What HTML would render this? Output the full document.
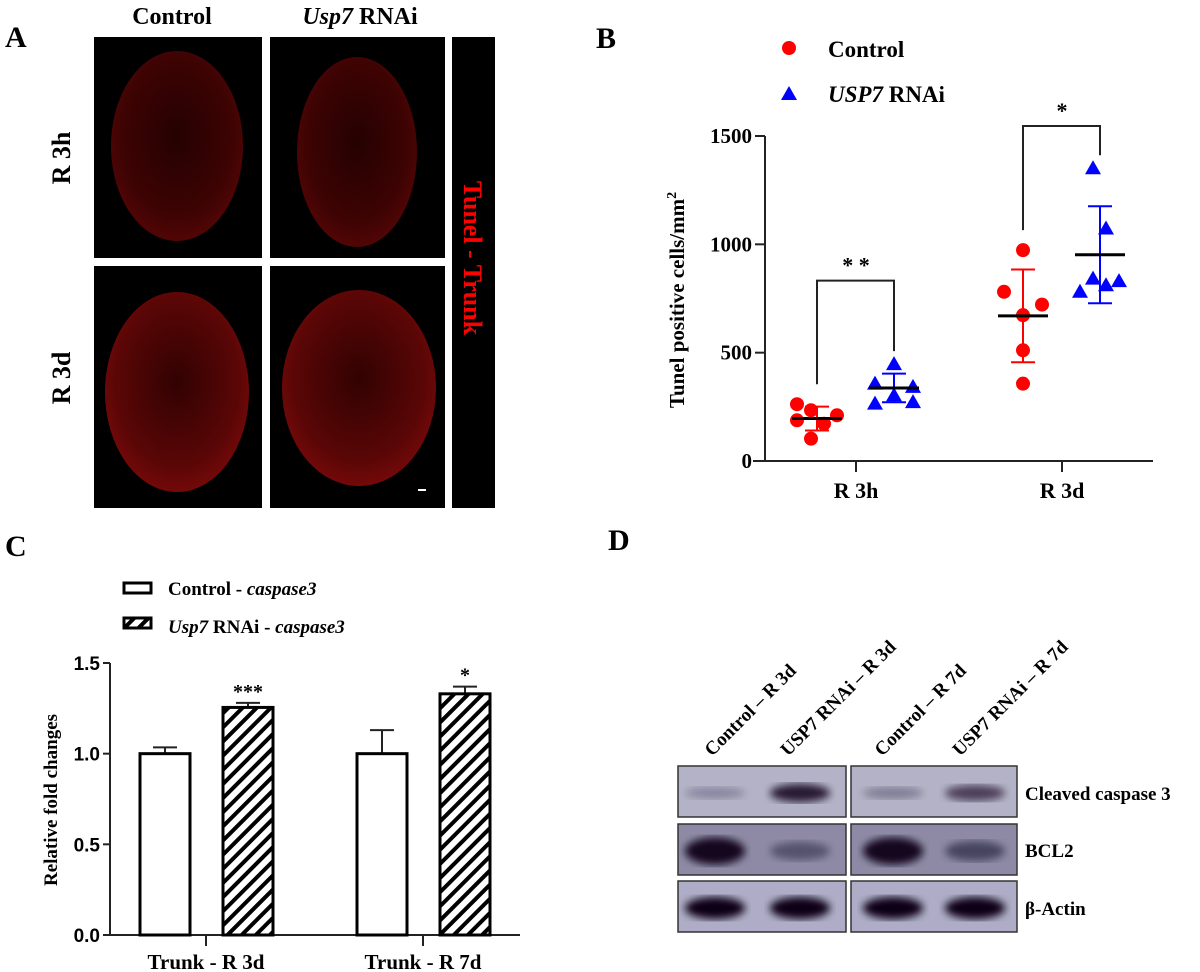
<!DOCTYPE html>
<html><head><meta charset="utf-8"><style>
body{margin:0;background:#fff;width:1200px;height:972px;overflow:hidden}
svg{display:block}
.s{font-family:"Liberation Serif",serif;font-weight:bold}
.a{font-family:"Liberation Sans",sans-serif;font-weight:bold}
</style></head><body>
<svg id="fig" width="1200" height="972" viewBox="0 0 1200 972">
<defs>
<radialGradient id="emb" cx="50%" cy="45%" r="60%"><stop offset="0" stop-color="#250101"/><stop offset="0.7" stop-color="#3e0303"/><stop offset="1" stop-color="#5a0606"/></radialGradient>
<radialGradient id="emb2" cx="50%" cy="45%" r="60%"><stop offset="0" stop-color="#320202"/><stop offset="0.7" stop-color="#5a0606"/><stop offset="1" stop-color="#7e0a0a"/></radialGradient>
<pattern id="hatch" patternUnits="userSpaceOnUse" width="10" height="10" patternTransform="rotate(45)"><rect width="10" height="10" fill="#fff"/><rect width="4" height="10" fill="#000"/></pattern>
<filter id="blur"><feGaussianBlur stdDeviation="4"/></filter>
</defs>

<g>
<text class="s" x="5" y="47" font-size="30">A</text>
<text class="s" x="172" y="24" font-size="24" text-anchor="middle">Control</text>
<text class="s" x="360" y="24" font-size="24" text-anchor="middle"><tspan font-style="italic">Usp7</tspan> RNAi</text>
<text class="s" x="70" y="158" font-size="26" text-anchor="middle" transform="rotate(-90 70 158)">R 3h</text>
<text class="s" x="70" y="378" font-size="26" text-anchor="middle" transform="rotate(-90 70 378)">R 3d</text>
<rect x="94" y="37" width="168" height="221" fill="#000"/>
<rect x="270" y="37" width="175" height="221" fill="#000"/>
<rect x="94" y="266" width="168" height="242" fill="#000"/>
<rect x="270" y="266" width="175" height="242" fill="#000"/>
<rect x="452" y="37" width="43" height="471" fill="#000"/>
<ellipse cx="177" cy="146" rx="66" ry="95" fill="url(#emb)"/>
<ellipse cx="357" cy="152" rx="60" ry="95" fill="url(#emb)"/>
<ellipse cx="177" cy="392" rx="72" ry="100" fill="url(#emb2)"/>
<ellipse cx="359" cy="388" rx="77" ry="98" fill="url(#emb2)"/>
<rect x="418" y="489" width="8" height="2" fill="#fff"/>
<text x="464" y="258" font-size="26" fill="#f00" text-anchor="middle" transform="rotate(90 464 258)" font-family="Liberation Serif,serif" font-weight="bold">Tunel - Trunk</text>
</g>

<g id="pb">
<text class="s" x="596" y="48" font-size="30">B</text>
<circle cx="789" cy="48" r="7" fill="#f00"/>
<text class="s" x="828" y="57" font-size="23">Control</text>
<polygon points="789,86 797,100 781,100" fill="#00f"/>
<text class="s" x="828" y="102" font-size="23"><tspan font-style="italic">USP7</tspan> RNAi</text>
<text class="s" x="684" y="300" font-size="21" text-anchor="middle" transform="rotate(-90 684 300)">Tunel positive cells/mm<tspan dy="-8" font-size="14">2</tspan></text>
</g>

<g id="pc">
<text class="s" x="5" y="556" font-size="30">C</text>
<rect x="124" y="583" width="27" height="10" fill="#fff" stroke="#000" stroke-width="3"/>
<text class="s" x="168" y="595" font-size="19">Control - <tspan font-style="italic">caspase3</tspan></text>
<rect x="124" y="618" width="27" height="10" fill="url(#hatch)" stroke="#000" stroke-width="3"/>
<text class="s" x="168" y="633" font-size="19"><tspan font-style="italic">Usp7</tspan> RNAi - <tspan font-style="italic">caspase3</tspan></text>
<text class="s" x="57" y="800" font-size="19" text-anchor="middle" transform="rotate(-90 57 800)">Relative fold changes</text>
</g>

<g>
<text class="s" x="608" y="550" font-size="30">D</text>
<g class="s" font-size="19">
<text transform="translate(712,757) rotate(-45)">Control – R 3d</text>
<text transform="translate(788,757) rotate(-45)">USP7 RNAi – R 3d</text>
<text transform="translate(882,757) rotate(-45)">Control – R 7d</text>
<text transform="translate(960,757) rotate(-45)">USP7 RNAi – R 7d</text>
</g>
<g id="blots"></g>
<text class="s" x="1025" y="800" font-size="19">Cleaved caspase 3</text>
<text class="s" x="1025" y="857" font-size="19">BCL2</text>
<text class="s" x="1025" y="915" font-size="19">β-Actin</text>
</g>
</svg>
<script>
const NS='http://www.w3.org/2000/svg';
function mk(p,t,a){const e=document.createElementNS(NS,t);for(const k in a)e.setAttribute(k,a[k]);p.appendChild(e);return e;}

// ===== Panel B data =====
const bGroups=['R 3h','R 3d'];
const bTicks=[0,500,1000,1500];
const ctrlPts=[[262,234,211,188,172,103],[973,781,722,673,511,357]];
const usp7Pts=[[447,357,342,303,265,272],[1351,1073,842,781,811,830]];
const ctrlMean=[196,670];
const ctrlSD=[55,214];
const usp7Mean=[337,952];
const usp7SD=[66,224];
const bSig=['* *','*'];

const pb=document.getElementById('pb');
const by=v=>461-v*325/1500;
const bx=i=>856+i*206;
mk(pb,'line',{x1:765,y1:136,x2:765,y2:461,stroke:'#222','stroke-width':2});
mk(pb,'line',{x1:753,y1:461,x2:1153,y2:461,stroke:'#222','stroke-width':2});
bTicks.forEach(t=>{
 const l=mk(pb,'line',{x1:755,y1:by(t),x2:765,y2:by(t),stroke:'#222','stroke-width':2});
 
 const tx=mk(pb,'text',{x:752,y:by(t)+7,'text-anchor':'end','font-size':21,class:'s'});tx.textContent=t;
 
});
const ctrlJit=[[-20,-6,20,-20,7,-6],[0,-19,19,0,0,0]];
const usp7Jit=[[0,-19,19,0,-19,19],[-7,6,-7,-20,6,19]];
bGroups.forEach((g,i)=>{
 const cx=bx(i);
 mk(pb,'line',{x1:cx,y1:461,x2:cx,y2:472,stroke:'#222','stroke-width':2});
 const tx=mk(pb,'text',{x:cx,y:498,'text-anchor':'middle','font-size':22,class:'s'});tx.textContent=g;
 
 const xc=cx-39, xu=cx+38;
 ctrlPts[i].forEach((v,k)=>{
  const c=mk(pb,'circle',{cx:xc+ctrlJit[i][k],cy:by(v),r:7,fill:'#f00'});
  
 });
 usp7Pts[i].forEach((v,k)=>{
  const x=xu+usp7Jit[i][k],y=by(v);
  const p=mk(pb,'polygon',{points:`${x},${y-8} ${x+8},${y+6} ${x-8},${y+6}`,fill:'#00f'});
  
 });
 [[xc,ctrlMean[i],ctrlSD[i],'#f00'],[xu,usp7Mean[i],usp7SD[i],'#00f']].forEach(([x,m,s,col])=>{
  mk(pb,'line',{x1:x,y1:by(m+s),x2:x,y2:by(m-s),stroke:col,'stroke-width':2});
  mk(pb,'line',{x1:x-12,y1:by(m+s),x2:x+12,y2:by(m+s),stroke:col,'stroke-width':2});
  mk(pb,'line',{x1:x-12,y1:by(m-s),x2:x+12,y2:by(m-s),stroke:col,'stroke-width':2});
  const ml=mk(pb,'line',{x1:x-25,y1:by(m),x2:x+25,y2:by(m),stroke:'#000','stroke-width':3});
  
 });
 const bt=i==0?by(usp7Mean[i]+usp7SD[i])-93:126;
 const yl=by(Math.max(...ctrlPts[i]))-20, yr=by(Math.max(...usp7Pts[i]))-13;
 const br=mk(pb,'polyline',{points:`${xc},${yl} ${xc},${bt} ${xu},${bt} ${xu},${yr}`,fill:'none',stroke:'#222','stroke-width':2});
 
 const st=mk(pb,'text',{x:cx,y:bt-8,'text-anchor':'middle','font-size':22,class:'s'});st.textContent=bSig[i];
 
});

// ===== Panel C data =====
const cGroups=['Trunk - R 3d','Trunk - R 7d'];
const cTicks=['0.0','0.5','1.0','1.5'];
const cCtrl=[1.0,1.0];
const cCtrlErr=[0.035,0.13];
const cUsp7=[1.255,1.33];
const cUsp7Err=[0.025,0.04];
const cSig=['***','*'];
const pc=document.getElementById('pc');
const cy=v=>935-v*272/1.5;
mk(pc,'line',{x1:110,y1:663,x2:110,y2:935,stroke:'#222','stroke-width':2});
mk(pc,'line',{x1:110,y1:935,x2:520,y2:935,stroke:'#222','stroke-width':2});
cTicks.forEach(t=>{
 const v=parseFloat(t);
 mk(pc,'line',{x1:103,y1:cy(v),x2:110,y2:cy(v),stroke:'#222','stroke-width':2});
 const tx=mk(pc,'text',{x:100,y:cy(v)+7,'text-anchor':'end','font-size':19,class:'a'});tx.textContent=t;
 
});
cGroups.forEach((g,i)=>{
 const cx=206+i*217;
 mk(pc,'line',{x1:cx,y1:935,x2:cx,y2:946,stroke:'#222','stroke-width':2});
 const tx=mk(pc,'text',{x:cx,y:969,'text-anchor':'middle','font-size':21,class:'s'});tx.textContent=g;
 
 [[cx-66,cCtrl[i],cCtrlErr[i],'#fff'],[cx+17,cUsp7[i],cUsp7Err[i],'url(#hatch)']].forEach(([x,v,e,f],j)=>{
  mk(pc,'line',{x1:x+25,y1:cy(v),x2:x+25,y2:cy(v+e),stroke:'#222','stroke-width':2});
  mk(pc,'line',{x1:x+13,y1:cy(v+e),x2:x+37,y2:cy(v+e),stroke:'#222','stroke-width':2});
  const r=mk(pc,'rect',{x:x,y:cy(v),width:50,height:935-cy(v),fill:f,stroke:'#000','stroke-width':3});
  
  if(j){const st=mk(pc,'text',{x:x+25,y:cy(v+e)-5,'text-anchor':'middle','font-size':20,class:'s'});st.textContent=cSig[i];
   }
 });
});

// ===== Panel D blots =====
const bl=document.getElementById('blots');
const rowsY=[766,824,881];
const rowBg=['#b4b2c6','#8e8aa6','#aeacc6'];
const bandInt=[[0.25,0.85,0.3,0.65],[0.95,0.4,0.95,0.5],[1,1,1,1]];
const lanes=[715,800,893,975];
rowsY.forEach((y,r)=>{
 [[678,168],[851,166]].forEach(([x,w])=>{
  const b=mk(bl,'rect',{x:x,y:y,width:w,height:51,fill:rowBg[r],stroke:'#333','stroke-width':1.5});
  
 });
 lanes.forEach((lx,k)=>{
  const a=bandInt[r][k];
  const e=mk(bl,'ellipse',{cx:lx,cy:y+27,rx:30,ry:r==2?11:(r==1?6+8*a:4+6*a),fill:'#0a0518','fill-opacity':a,filter:'url(#blur)'});
  
 });
});
</script>
</body></html>
